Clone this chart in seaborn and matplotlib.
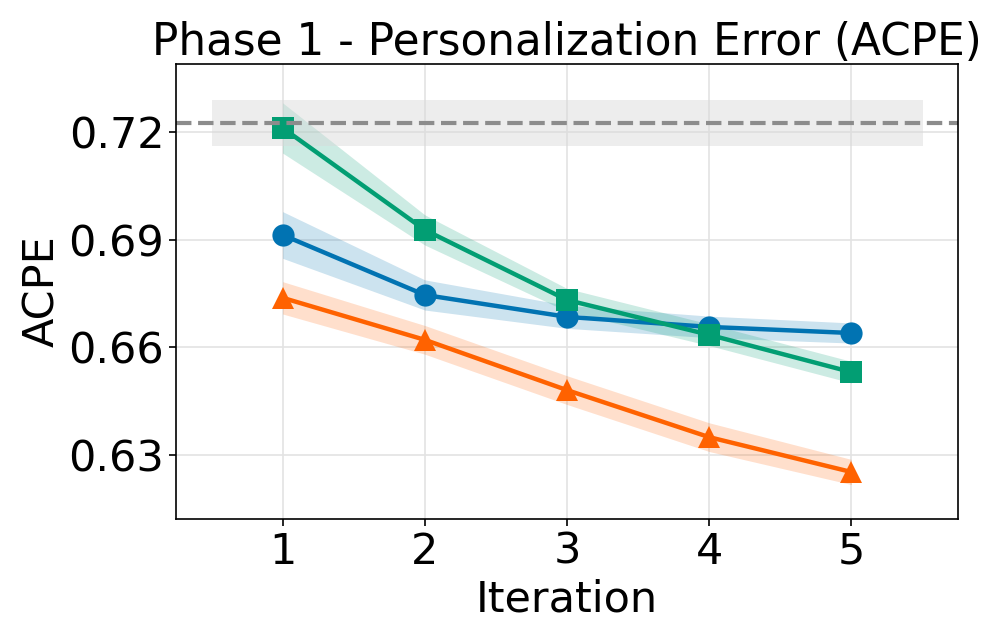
import numpy as np
import pandas as pd
import matplotlib
matplotlib.use("Agg")
import matplotlib.pyplot as plt
import seaborn as sns

iterations = [1, 2, 3, 4, 5]
method_names = ["A", "B", "C"]
acpe_a = [0.6913, 0.6746, 0.6685, 0.6657, 0.6640]
acpe_b = [0.7211, 0.6927, 0.6732, 0.6635, 0.6531]
acpe_c = [0.6738, 0.6621, 0.6481, 0.6350, 0.6253]
err_a = [0.0065, 0.0042, 0.0032, 0.0030, 0.0028]
err_b = [0.0070, 0.0042, 0.0032, 0.0030, 0.0030]
err_c = [0.0045, 0.0040, 0.0040, 0.0040, 0.0035]
baseline = 0.7225
baseline_lo, baseline_hi = 0.7161, 0.7289

colors = ["#0173b2", "#029e73", "#ff6200"]
markers = ["o", "s", "^"]

sns.set_style("ticks")
plt.rcParams['font.family'] = ['DejaVu Sans']
plt.rcParams['text.color'] = 'black'
plt.rcParams['axes.labelcolor'] = 'black'

fig = plt.figure(figsize=(9.97, 6.44), dpi=100)
ax = fig.add_axes([0.1765, 0.194, 0.7845, 0.7066])

df = pd.DataFrame({
    "Iteration": iterations * 3,
    "ACPE": acpe_a + acpe_b + acpe_c,
    "method": sum([[m] * 5 for m in method_names], []),
})

for vals, errs, c in zip([acpe_a, acpe_b, acpe_c], [err_a, err_b, err_c], colors):
    v = np.array(vals); e = np.array(errs)
    ax.fill_between(iterations, v - e, v + e, color=c, alpha=0.2, linewidth=0)

sns.lineplot(data=df, x="Iteration", y="ACPE", hue="method", style="method",
             palette=colors, markers=markers, dashes=False, markersize=16,
             linewidth=3.2, markeredgewidth=0, legend=False, ax=ax)

ax.axhline(baseline, color="#8c8c8c", linestyle="--", linewidth=3)
ax.fill_between([0.5, 5.5], baseline_lo, baseline_hi, color="#d9d9d9", alpha=0.45, linewidth=0)

ax.set_xlim(0.25, 5.75)
ax.set_ylim(0.6122, 0.7389)
ax.set_xticks(iterations)
ax.set_yticks([0.63, 0.66, 0.69, 0.72])
ax.set_yticklabels(["0.63", "0.66", "0.69", "0.72"])
ax.grid(True, color="#e3e3e3", linewidth=1.2)
ax.set_axisbelow(True)
for s in ax.spines.values():
    s.set_color("black")
    s.set_linewidth(1.2)
ax.tick_params(labelsize=31, width=1.2, length=5, colors="black")
ax.set_xlabel("Iteration", fontsize=31, color="black")
ax.set_ylabel("ACPE", fontsize=31, color="black")
ax.set_title("Phase 1 - Personalization Error (ACPE)", fontsize=31.5, color="black")

fig.savefig("out.png", dpi=100)
